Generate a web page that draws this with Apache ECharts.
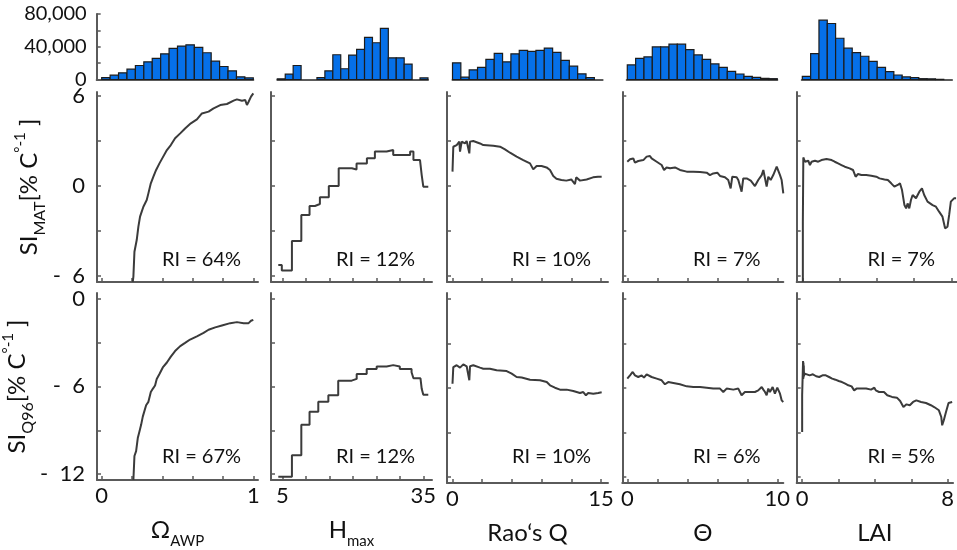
<!DOCTYPE html>
<html>
<head>
<meta charset="utf-8">
<script src="https://cdn.jsdelivr.net/npm/echarts@6/dist/echarts.min.js"></script>
<style>
  html, body { margin: 0; padding: 0; background: #ffffff; }
  #chart { width: 957px; height: 550px; }
</style>
</head>
<body>
<div id="chart"></div>
<script>
// ---------- histogram counts (top row) ----------
const omegaCounts = [2400, 5300, 8200, 12600, 17100, 21600, 25700, 31400, 38000, 40800, 42400, 39200, 32700, 22400, 15900, 10600, 3300, 2000];
const hmaxCounts  = [800, 6500, 17100, 0, 0, 2400, 10600, 30200, 13100, 29800, 36700, 51400, 44900, 62400, 26500, 26500, 18800, 0, 2000];
const raoCounts   = [20400, 2900, 11800, 14700, 24500, 31800, 21600, 31400, 35500, 34300, 35500, 38400, 33100, 23300, 16300, 6900, 2400];
const thetaCounts = [17800, 25900, 27600, 39800, 39800, 43100, 43100, 36500, 30000, 24700, 19000, 14900, 10000, 6700, 3900, 2700, 1400, 1000];
const laiCounts   = [3900, 31600, 72400, 68400, 50400, 38200, 32900, 28400, 22200, 14900, 9600, 5500, 3100, 2200, 1000, 800, 200, 0];

// bin start and bin width of each histogram
const binStarts = [0, 3.94, 0, 0, 0];
const binWidths = [1 / 18, 1.687, 0.843, 10 / 18, 8 / 18];

// ---------- sensitivity curves, SI_MAT (middle row) ----------
const siMatOmega = [[0.205,-6.4],[0.209,-6.04],[0.216,-4.38],[0.231,-3.6],[0.242,-2.71],[0.253,-2.04],[0.264,-1.71],[0.275,-1.38],[0.286,-1.49],[0.297,-0.93],[0.308,-0.49],[0.324,0.18],[0.341,0.62],[0.359,1.07],[0.381,1.51],[0.403,1.91],[0.43,2.4],[0.456,2.73],[0.484,3.18],[0.518,3.51],[0.55,3.84],[0.588,4.18],[0.628,4.44],[0.661,4.84],[0.705,4.96],[0.738,5.18],[0.782,5.4],[0.826,5.47],[0.87,5.69],[0.892,5.78],[0.925,5.69],[0.947,5.73],[0.958,5.4],[0.969,5.62],[0.985,5.96],[1.0,6.18]];
const siMatHmax = [[4.15,-5.27],[4.9,-5.64],[7.05,-3.67],[9.05,-1.93],[10.8,-1.33],[11.95,-1.2],[13.0,-0.75],[14.9,0.0],[17.0,1.18],[19.8,1.1],[20.8,1.5],[23.0,1.85],[24.7,2.3],[27.2,2.4],[28.6,2.07],[30.0,2.07],[32.2,2.3],[32.9,1.73],[34.3,1.62],[34.66,0.73],[35.0,-0.04],[36.06,-0.04]];
const siMatRao = [[0,0.96],[0.08,2.62],[0.42,2.73],[0.69,2.96],[0.76,2.29],[0.93,2.96],[1.26,2.84],[1.43,3.0],[1.70,2.18],[1.77,2.96],[2.1,3.0],[2.78,2.84],[3.11,2.73],[4.12,2.69],[4.8,2.62],[5.3,2.44],[5.81,2.22],[6.48,1.96],[7.15,1.73],[7.83,1.51],[8.16,1.11],[8.5,1.33],[9.0,1.33],[9.5,1.24],[9.85,1.07],[10.18,0.67],[10.5,0.49],[11.0,0.4],[11.5,0.36],[12.0,0.44],[12.37,0.13],[12.5,0.58],[12.88,0.36],[13.55,0.44],[14.2,0.58],[14.7,0.62],[15.07,0.62]];
const siMatTheta = [[0,1.62],[0.18,1.78],[0.4,1.84],[0.51,1.56],[0.73,1.67],[1.07,1.73],[1.29,1.96],[1.51,2.0],[1.62,1.84],[1.96,1.62],[2.29,1.4],[2.45,1.07],[2.62,1.24],[2.85,1.18],[3.18,1.24],[3.51,1.07],[3.96,0.96],[4.4,0.96],[4.85,0.93],[5.29,0.89],[5.51,0.73],[5.73,0.84],[6.0,0.89],[6.18,0.67],[6.51,0.58],[6.73,0.4],[6.89,-0.16],[7.0,0.62],[7.29,0.58],[7.4,0.4],[7.62,-0.38],[7.73,0.51],[7.96,0.51],[8.23,0.36],[8.51,0],[8.73,0.4],[8.96,0.73],[9.07,1.07],[9.18,0.96],[9.29,-0.04],[9.4,0.62],[9.56,0.4],[9.73,0.73],[9.96,1.29],[10.07,1.18],[10.18,0.73],[10.29,0.4],[10.4,-0.49]];
const siMatLai = [[0.03,-6.4],[0.03,-2.38],[0.055,1.91],[0.144,1.62],[0.233,1.51],[0.32,1.69],[0.41,1.4],[0.5,1.62],[0.68,1.69],[0.855,1.62],[1.03,1.73],[1.3,1.8],[1.57,1.73],[1.74,1.62],[1.92,1.51],[2.1,1.4],[2.28,1.29],[2.54,1.18],[2.72,1.07],[2.86,0.62],[2.99,0.8],[3.17,0.73],[3.43,0.73],[3.7,0.69],[3.97,0.62],[4.14,0.51],[4.41,0.44],[4.59,0.4],[4.77,0.18],[4.94,-0.04],[5.12,0.07],[5.24,0.18],[5.35,-0.27],[5.48,-1.27],[5.57,-1.49],[5.65,-1.16],[5.74,-1.49],[5.83,-0.93],[5.92,-0.6],[6.1,-0.82],[6.28,-0.38],[6.42,-0.16],[6.54,-0.6],[6.72,-1.04],[6.99,-1.27],[7.17,-1.38],[7.34,-1.71],[7.52,-2.04],[7.66,-2.82],[7.79,-2.71],[7.88,-1.93],[7.97,-1.04],[8.14,-0.82],[8.25,-0.82]];

// ---------- sensitivity curves, SI_Q96 (bottom row) ----------
const siQ96Omega = [[0.209,-12.4],[0.216,-10.76],[0.227,-10.43],[0.238,-9.53],[0.249,-9.08],[0.26,-8.63],[0.271,-8.07],[0.28,-7.96],[0.293,-7.29],[0.308,-7.06],[0.324,-6.39],[0.337,-6.17],[0.352,-5.94],[0.363,-5.49],[0.381,-5.16],[0.403,-4.71],[0.43,-4.37],[0.456,-3.97],[0.484,-3.59],[0.518,-3.25],[0.55,-3.03],[0.583,-2.8],[0.628,-2.58],[0.672,-2.35],[0.705,-2.13],[0.749,-1.97],[0.793,-1.84],[0.848,-1.68],[0.892,-1.61],[0.936,-1.68],[0.969,-1.68],[0.985,-1.52],[1.0,-1.46]];
const siQ96Hmax = [[4.15,-12.17],[7.05,-10.7],[9.05,-8.63],[10.8,-7.74],[12.66,-7.06],[14.8,-6.61],[16.9,-5.61],[19.76,-5.49],[20.83,-5.16],[22.96,-4.82],[25.08,-4.64],[27.2,-4.55],[28.6,-4.64],[30.0,-4.82],[32.5,-5.04],[32.9,-5.45],[34.4,-5.5],[34.66,-6.17],[35.0,-6.57],[36.06,-6.57]];
const siQ96Rao = [[0,-5.72],[0.08,-4.6],[0.42,-4.48],[0.76,-4.64],[1.09,-4.42],[1.43,-4.55],[1.70,-5.49],[1.77,-4.55],[2.1,-4.48],[2.78,-4.64],[3.11,-4.71],[3.78,-4.71],[4.46,-4.82],[5.47,-4.87],[5.98,-5.04],[6.48,-5.27],[6.99,-5.31],[7.83,-5.45],[8.84,-5.49],[9.52,-5.61],[9.85,-5.83],[10.35,-5.99],[10.86,-6.12],[11.53,-6.12],[12.2,-6.21],[12.88,-6.35],[13.21,-6.28],[13.48,-6.5],[13.71,-6.35],[14.22,-6.39],[14.72,-6.35],[15.07,-6.3]];
const siQ96Theta = [[0,-5.38],[0.18,-5.16],[0.36,-4.93],[0.51,-5.16],[0.73,-5.27],[0.96,-5.16],[1.11,-5.31],[1.29,-5.09],[1.62,-5.27],[1.96,-5.38],[2.29,-5.49],[2.51,-5.76],[2.73,-5.61],[3.07,-5.67],[3.51,-5.76],[3.96,-5.9],[4.4,-5.94],[4.85,-5.94],[5.29,-5.99],[5.73,-6.05],[6.18,-6.05],[6.4,-6.28],[6.62,-6.05],[7.07,-6.12],[7.4,-6.05],[7.62,-6.5],[7.84,-6.28],[8.18,-6.28],[8.51,-6.28],[8.73,-6.17],[8.96,-5.94],[9.07,-6.12],[9.18,-6.28],[9.29,-6.5],[9.4,-6.05],[9.51,-6.28],[9.69,-5.94],[9.84,-6.39],[10.0,-5.99],[10.18,-6.39],[10.29,-6.84],[10.4,-6.95]];
const siQ96Lai = [[0.0,-8.97],[0.0,-6.5],[0.04,-6.5],[0.05,-4.19],[0.06,-5.4],[0.07,-4.3],[0.08,-5.3],[0.09,-4.5],[0.1,-5.2],[0.144,-5.04],[0.233,-5.16],[0.41,-5.16],[0.59,-5.09],[0.77,-5.22],[0.94,-5.27],[1.12,-5.16],[1.3,-5.16],[1.48,-5.27],[1.65,-5.38],[1.83,-5.45],[2.01,-5.54],[2.19,-5.61],[2.37,-5.72],[2.54,-5.83],[2.72,-5.9],[2.86,-6.17],[2.99,-6.05],[3.26,-6.05],[3.52,-6.05],[3.79,-6.12],[3.97,-5.99],[4.05,-6.17],[4.23,-6.28],[4.5,-6.28],[4.68,-6.5],[4.94,-6.61],[5.21,-6.66],[5.39,-6.88],[5.57,-7.29],[5.74,-7.11],[5.92,-7.17],[6.1,-6.95],[6.28,-6.84],[6.37,-6.73],[6.54,-6.95],[6.81,-7.02],[7.08,-7.17],[7.26,-7.29],[7.52,-7.51],[7.65,-7.96],[7.7,-8.52],[7.79,-8.18],[7.91,-7.62],[8.05,-7.02],[8.25,-6.95]];

// ---------- axis ticks, tick labels and annotation text ----------
const xTicks = [[0,0.2,0.4,0.6,0.8,1],[5,10,15,20,25,30,35],[0,3,6,9,12,15],[0,2,4,6,8,10],[0,2,4,6,8]];
const xTickLabels = [[0,1],[5,35],[0,15],[0,10],[0,8]];
const xRanges = [[-0.031,1.031],[2.6,36.85],[-0.556,15.71],[-0.333,10.4],[-0.3,8.3]];
const histRanges = [[-0.033,1.0],[3.94,36.0],[0,15.17],[-0.04,10],[-0.03,8]];
const yRanges = [[-6.4,6.27],[-12.4,0.38]];
const yTicks = [[-6,-3,0,3,6],[-12,-9,-6,-3,0]];
const yTickLabels = [[-6,0,6],[-12,-6,0]];
const histTicks = [0,20000,40000,60000,80000];
const histTickLabels = [0,40000,80000];
const riMat = ['RI = 64%','RI = 12%','RI = 10%','RI = 7%','RI = 7%'];
const riQ96 = ['RI = 67%','RI = 12%','RI = 10%','RI = 6%','RI = 5%'];
const xNames = ['{b|Ω}{s|AWP}','{b|H}{s|max}','{b|Rao‘s Q}','{b|Θ}','{b|LAI}'];
const yNames = ['{b|SI}{s|MAT}{b|[% C}{p|°-1}{b| ]}', '{b|SI}{s|Q96}{b|[% C}{p|°-1}{b| ]}'];

const histCounts = [omegaCounts, hmaxCounts, raoCounts, thetaCounts, laiCounts];
const matCurves = [siMatOmega, siMatHmax, siMatRao, siMatTheta, siMatLai];
const q96Curves = [siQ96Omega, siQ96Hmax, siQ96Rao, siQ96Theta, siQ96Lai];
const stepped = [false, true, false, false, false];

// ---------- layout ----------
const FONT = 'Lato, "Open Sans", sans-serif';
const INK = '#111111';
const AXIS = '#5a5a5a';
const colLeft = [97, 271, 447, 622.3, 796.7];
const plotWidth = 161;
const histTop = 14, histHeight = 65.5;
const rowTop = [92, 293], rowHeight = 190;

function pxOf(c, x) {
  const r = xRanges[c];
  return colLeft[c] + (x - r[0]) / (r[1] - r[0]) * plotWidth;
}
const negFmt = v => (v < 0 ? '-  ' + Math.abs(v) : String(v));

const grid = [], xAxis = [], yAxis = [], series = [], graphic = [];

for (let c = 0; c < 5; c++) {
  // histogram panel
  const hl = pxOf(c, histRanges[c][0]);
  const hr = pxOf(c, histRanges[c][1]);
  const hIdx = grid.length;
  grid.push({ left: hl, top: histTop, width: hr - hl, height: histHeight });
  xAxis.push({
    gridIndex: hIdx, type: 'value', min: histRanges[c][0], max: histRanges[c][1],
    axisLine: { onZero: false, lineStyle: { color: AXIS, width: 2 } },
    axisTick: { show: false }, axisLabel: { show: false }, splitLine: { show: false }
  });
  yAxis.push({
    gridIndex: hIdx, type: 'value', min: 0, max: 80000,
    show: c === 0,
    axisLine: { show: true, onZero: false, lineStyle: { color: AXIS, width: 2 } },
    axisTick: { show: true, inside: true, length: 4, customValues: histTicks, lineStyle: { color: AXIS, width: 1.5 } },
    axisLabel: {
      show: true, customValues: histTickLabels, margin: 10,
      color: INK, fontFamily: FONT, fontSize: 20,
      formatter: v => Number(v).toLocaleString('en-US')
    },
    splitLine: { show: false }
  });
  const counts = histCounts[c];
  series.push({
    type: 'custom', xAxisIndex: hIdx, yAxisIndex: hIdx, animation: false,
    encode: { x: [0, 1], y: 2 },
    data: counts.map((v, i) => [binStarts[c] + i * binWidths[c], binStarts[c] + (i + 1) * binWidths[c], v]),
    renderItem: (params, api) => {
      const p0 = api.coord([api.value(0), api.value(2)]);
      const p1 = api.coord([api.value(1), 0]);
      if (api.value(2) <= 0) return null;
      return {
        type: 'rect',
        shape: { x: p0[0], y: p0[1], width: p1[0] - p0[0], height: p1[1] - p0[1] },
        style: { fill: '#0670e8', stroke: '#1c1c1c', lineWidth: 1.2 }
      };
    }
  });

  // two sensitivity panels
  for (let r = 0; r < 2; r++) {
    const idx = grid.length;
    const bottomRow = r === 1;
    grid.push({ left: colLeft[c], top: rowTop[r], width: plotWidth, height: rowHeight });
    xAxis.push({
      gridIndex: idx, type: 'value', min: xRanges[c][0], max: xRanges[c][1],
      axisLine: { onZero: false, lineStyle: { color: AXIS, width: 2 } },
      axisTick: { show: true, inside: true, length: 4, customValues: xTicks[c], lineStyle: { color: AXIS, width: 1.5 } },
      axisLabel: {
        show: bottomRow, customValues: xTickLabels[c], margin: 5,
        color: INK, fontFamily: FONT, fontSize: 22
      },
      splitLine: { show: false },
      name: bottomRow ? xNames[c] : '',
      nameLocation: 'middle', nameGap: 38,
      nameTextStyle: {
        color: INK, fontFamily: FONT,
        rich: {
          b: { fontSize: 24, fontFamily: FONT, color: INK },
          s: { fontSize: 15, fontFamily: FONT, color: INK, verticalAlign: 'bottom', padding: [0, 0, -7, 0] }
        }
      }
    });
    yAxis.push({
      gridIndex: idx, type: 'value', min: yRanges[r][0], max: yRanges[r][1],
      axisLine: { show: true, onZero: false, lineStyle: { color: AXIS, width: 2 } },
      axisTick: { show: true, inside: true, length: 4, customValues: yTicks[r], lineStyle: { color: AXIS, width: 1.5 } },
      axisLabel: {
        show: c === 0, customValues: yTickLabels[r], margin: 12,
        color: INK, fontFamily: FONT, fontSize: 22, formatter: negFmt
      },
      splitLine: { show: false },
      name: c === 0 ? yNames[r] : '',
      nameLocation: 'middle', nameRotate: 90, nameGap: 56,
      nameTextStyle: {
        color: INK, fontFamily: FONT,
        rich: {
          b: { fontSize: 24, fontFamily: FONT, color: INK },
          s: { fontSize: 16, fontFamily: FONT, color: INK, verticalAlign: 'bottom', padding: [0, 0, -7, 0] },
          p: { fontSize: 15, fontFamily: FONT, color: INK, verticalAlign: 'top', padding: [-4, 0, 0, 0] }
        }
      }
    });
    series.push({
      type: 'line', xAxisIndex: idx, yAxisIndex: idx,
      data: (r === 0 ? matCurves : q96Curves)[c],
      step: stepped[c] ? 'end' : false,
      showSymbol: false, symbol: 'none', animation: false, clip: true,
      lineStyle: { color: '#3b3b3b', width: 2 }
    });
    graphic.push({
      type: 'text', silent: true,
      x: colLeft[c] + 104.5, y: r === 0 ? 260 : 457,
      style: {
        text: (r === 0 ? riMat : riQ96)[c],
        fill: INK, font: '20px ' + FONT, align: 'center', verticalAlign: 'middle'
      }
    });
  }
}

const chart = echarts.init(document.getElementById('chart'), null, { renderer: 'canvas' });
chart.setOption({
  animation: false,
  backgroundColor: '#ffffff',
  grid, xAxis, yAxis, series, graphic
});
</script>
</body>
</html>
